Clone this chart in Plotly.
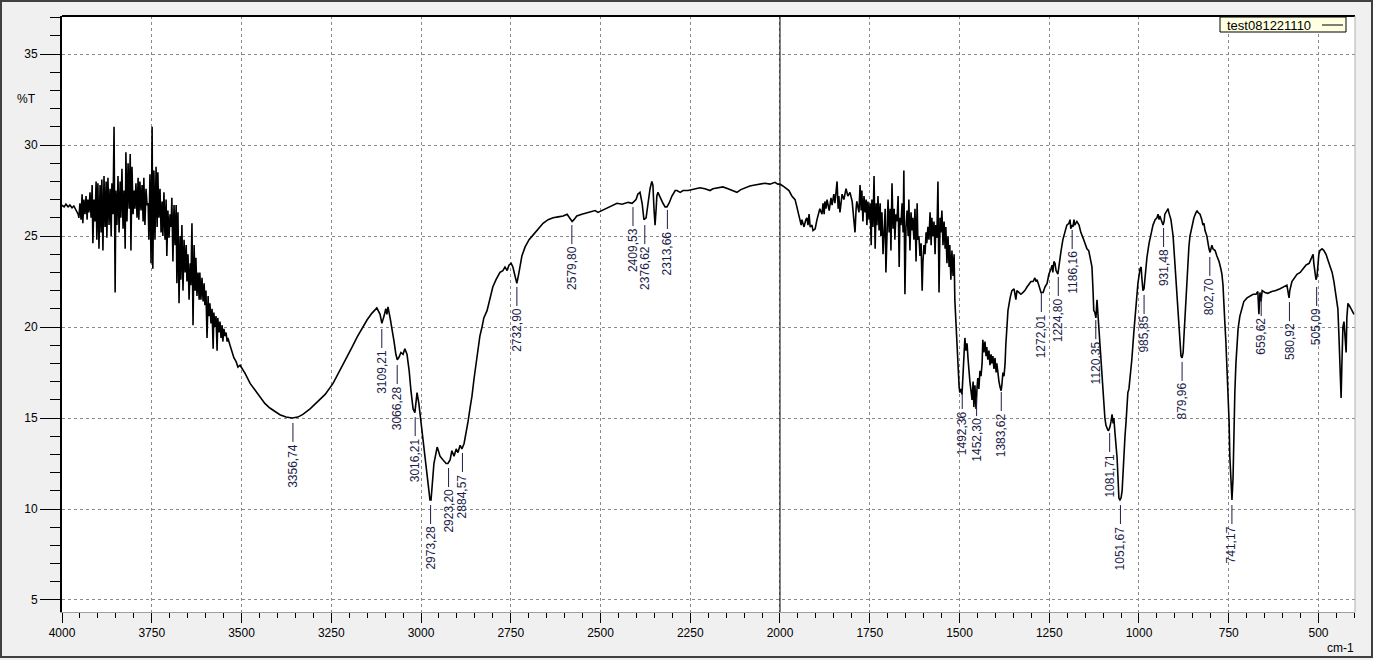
import plotly.graph_objects as go

# ---------------- data ----------------
wn_a = [4000,3994,3989,3983,3978,3972,3967,3961,3955,3953,
        3950,3947,3944,3942,3939,3936,3933,3930,3928,3925,
        3922,3919,3916,3914,3911,3908,3905,3903,3900,3897,
        3894,3891,3889,3886,3883,3880,3877,3875,3872,3869,
        3866,3863,3861,3858,3855,3852,3850,3847,3844,3841,
        3838,3836,3833,3830,3827,3824,3822,3819,3816,3813,
        3810,3808,3805,3802,3799,3797,3794,3791,3788,3786,
        3783,3780,3777,3774,3772,3769,3766,3763,3760,3758,
        3755,3752,3749,3747,3744,3741,3738,3735,3733,3730,
        3727,3724,3721,3719,3716,3713,3710,3708,3705,3702,
        3699,3696,3694,3691,3688,3685,3682,3680,3677,3674,
        3671,3669,3666,3663,3660,3657,3654,3652,3649,3646,
        3643,3641,3638,3635,3632,3629,3627,3624,3621,3618,
        3616,3613,3610,3607,3604,3602,3599,3596,3593,3591,
        3588,3585,3582,3579,3577,3574,3571,3568,3566,3563,
        3560,3557,3554,3552,3549,3546,3543,3540,3538,3532,
        3526,3521,3515,3510,3504]
t_a = [26.7,26.6,26.75,26.6,26.7,26.55,26.65,26.4,26.2,26.0,
       26.8,25.9,27.3,25.7,27.0,26.2,27.2,25.9,27.0,26.3,
       27.4,26.0,27.8,24.6,27.0,25.8,28.0,24.8,27.9,24.3,
       27.8,25.2,28.1,24.2,28.3,25.5,28.0,24.9,28.2,25.6,
       27.6,25.0,27.9,26.2,31.0,21.9,27.5,25.6,28.3,25.2,
       28.0,26.0,28.7,25.4,27.5,24.3,29.6,25.8,29.0,26.5,
       29.5,24.2,28.8,26.2,27.5,26.5,27.9,26.0,28.2,25.9,
       28.0,26.4,27.8,25.8,28.2,25.6,27.6,26.7,26.8,24.8,
       28.4,23.5,31.0,23.2,28.6,24.8,28.8,25.5,28.5,26.0,
       27.6,25.2,26.9,25.0,27.4,24.8,27.0,23.9,26.4,24.9,
       26.2,25.5,27.1,23.6,26.7,24.5,26.7,22.4,26.3,21.3,
       25.0,22.6,25.6,22.0,24.8,23.0,24.5,22.5,24.0,21.5,
       23.5,22.3,25.7,20.1,24.5,22.0,23.8,21.7,23.0,21.5,
       23.0,21.5,22.7,21.4,22.4,21.2,22.0,19.4,21.7,20.6,
       21.3,20.2,21.0,18.8,20.8,20.0,20.6,18.7,20.5,19.7,
       20.3,19.4,20.1,19.2,19.9,19.5,19.7,19.2,19.4,19.0,
       18.6,18.3,18.1,17.8,17.9]

wn_b = [3490,3476,3462,3448,3435,3421,3407,3393,3376,3359,
        3343,3329,3309,3290,3267,3245,3226,3206,3192,3178,
        3164,3150,3137,3123,3114,3109,3103,3098,3095,3092,
        3086,3081,3075,3070,3066,3061,3056,3050,3045,3039,
        3033,3028,3022,3017,3011,3006,3000,2994,2989,2983,
        2978,2975,2972,2969,2964,2958,2955,2953,2947,2939,
        2930,2925,2919,2914,2908,2902,2897,2891,2886,2880,
        2875,2869,2863,2858,2852,2847,2841,2836,2830,2825,
        2816,2808,2800,2791,2780,2772,2766,2760,2755,2749,
        2744,2738,2733,2727,2719,2710,2699,2688,2674,2660,
        2646,2632,2618,2604,2593,2585,2579,2574,2566,2552,
        2529,2515,2507,2487,2468,2454,2440,2423,2412,2401,
        2396,2390,2384,2379,2373,2368,2362,2357,2354,2351,
        2348,2345,2343,2340,2334,2326,2320,2315,2309,2301,
        2292,2287,2278,2270,2256,2245,2231,2223,2209,2195,
        2187,2173,2159,2145,2131,2120,2109,2098,2084,2070,
        2056,2042,2028,2014,2006,2000]
t_b = [17.45,16.9,16.5,16.1,15.8,15.55,15.35,15.18,15.05,15.0,
       15.05,15.2,15.5,15.85,16.3,16.9,17.6,18.3,18.9,19.45,
       19.95,20.4,20.75,21.05,20.7,20.2,20.6,21.0,20.7,21.1,
       20.5,20.0,19.2,18.5,18.2,18.35,18.6,18.5,18.8,18.5,
       17.6,16.5,15.5,15.3,16.4,15.8,14.8,14.0,13.0,12.0,
       11.0,10.5,10.5,11.2,12.5,13.1,13.4,13.3,12.9,12.7,
       12.5,12.5,12.7,13.2,12.9,13.3,13.1,13.5,13.3,13.6,
       14.1,14.8,15.6,16.2,17.2,18.0,18.9,19.5,20.0,20.5,
       20.9,21.6,22.2,22.6,23.0,23.1,23.3,23.1,23.4,23.5,
       23.3,22.8,22.4,23.0,23.9,24.4,24.8,25.05,25.4,25.7,
       25.9,26.0,26.05,26.1,26.2,26.0,25.8,25.9,26.1,26.2,
       26.3,26.4,26.3,26.5,26.7,26.8,26.75,26.85,26.8,27.0,
       27.3,27.4,26.8,25.9,26.0,26.8,27.6,28.0,27.8,26.5,
       25.6,26.5,27.2,27.4,27.1,26.8,26.6,26.6,26.8,27.2,
       27.5,27.5,27.4,27.5,27.5,27.55,27.6,27.65,27.6,27.5,
       27.6,27.65,27.7,27.6,27.5,27.4,27.55,27.65,27.75,27.8,
       27.85,27.9,27.85,27.95,27.85,27.85]

wn_c = [1992,1983,1975,1967,1958,1953,1947,1944,1941,1939,
        1933,1928,1925,1922,1919,1916,1911,1908,1902,1897,
        1891,1889,1883,1880,1877,1875,1872,1869,1863,1858,
        1855,1850,1847,1841,1838,1836,1833,1827,1822,1816,
        1811,1805,1799,1794,1791,1788,1786,1780,1777,1774,
        1772,1769,1766,1763,1760,1758,1755,1752,1749,1746,
        1744,1741,1738,1735,1732,1730,1727,1724,1721,1719,
        1716,1713,1707,1705,1702,1699,1696,1693,1691,1688,
        1685,1682,1680,1677,1674,1671,1668,1666,1663,1660,
        1657,1655,1652,1649,1646,1643,1641,1638,1635,1632,
        1630,1627,1624,1621,1618,1616,1613,1610,1607,1604,
        1602,1599,1596,1593,1591,1588,1585,1582,1579,1577,
        1574,1571,1568,1566,1563,1560,1557,1554,1552,1549,
        1546,1543,1540,1538,1535,1532,1529,1527,1524,1521,
        1518,1515,1513,1510,1507,1504,1501,1499,1496,1493,
        1490]
t_c = [27.75,27.6,27.5,27.2,27.0,26.6,26.1,25.8,25.6,25.9,
       25.5,25.9,26.0,25.6,26.2,25.5,25.6,25.3,25.4,25.9,
       26.3,26.5,26.2,26.8,26.2,26.9,26.5,27.0,26.4,27.1,
       26.7,27.3,26.8,28.0,26.5,27.2,26.3,27.3,27.0,27.6,
       27.2,27.4,26.9,26.0,25.2,26.5,26.9,26.3,27.8,26.4,
       27.5,25.8,27.2,26.3,27.0,25.6,26.9,25.9,26.8,24.5,
       27.0,25.5,28.3,24.3,26.8,25.6,27.2,25.3,26.8,25.0,
       26.3,24.0,26.5,23.0,25.5,27.0,25.2,26.5,24.2,27.9,
       25.4,26.5,24.8,26.2,25.8,27.2,23.3,26.0,25.6,26.8,
       25.2,28.6,21.8,25.5,26.4,25.0,27.0,24.2,26.3,25.3,
       26.0,24.8,26.5,23.6,26.8,24.8,25.0,23.9,24.6,22.0,
       23.5,24.5,24.0,25.2,24.6,25.5,24.8,26.3,24.5,26.0,
       25.0,25.8,24.0,25.6,24.9,28.0,21.9,26.0,25.2,26.4,
       24.5,25.8,24.3,25.5,23.5,25.0,23.3,24.5,22.6,24.2,
       22.8,24.0,21.5,20.2,19.0,17.5,16.7,16.4,16.6,16.3,
       17.5]

wn_d = [1487,1485,1482,1479,1476,1474,1471,1468,1465,1462,
        1460,1457,1454,1451,1449,1446,1443,1440,1437,1435,
        1432,1429,1426,1424,1421,1418,1415,1412,1410,1407,
        1404,1401,1398,1396,1393,1390,1387,1384,1382,1379,
        1376,1373,1371,1368,1365,1359,1354,1348,1346,1343,
        1340,1334,1329,1323,1318,1312,1306,1301,1295,1290,
        1287,1284,1279,1273,1267,1262,1256,1251,1245,1242,
        1240,1237,1234,1231,1226,1223,1217,1212,1206,1201,
        1195,1192,1190,1187,1184,1181,1179,1173,1167,1162,
        1156,1151,1145,1140,1137,1134,1131,1128,1126,1123,
        1120,1117,1114,1112,1109,1106,1103,1100,1098,1095,
        1092,1089,1086,1084,1081,1078,1075,1072,1070,1067,
        1064,1061,1058,1056,1053,1050,1047,1045,1042,1039,
        1036,1034,1031,1028,1025,1020,1014,1008,1003,997,
        994,992,989,986,983,978,972,966,961,955,
        950,947,944,942,936,933,930,928,922,919,
        917,911,905,900,897,894,891,889,886,883,
        880,877,875,872,869,866,864,861,858,852,
        847,841,838,836,830,825,822,819,816,811,
        808,805,802,799,797,794,788,783,777,772,
        769,766,763,761,758,755,752,749,747,744,
        741,738,736,733,730,727,724,719,713,708,
        699,691,682,674,669,666,663,660,657,649,
        641,630,619,607,596,588,582,580,574,568,
        560,551,543,535,526,521,515,513,510,507,
        504,501,499,496,490,485,479,474,468,462,
        457,451,446,443,440,437,435,432,429,426,
        423,421,418,412,407,401]
t_d = [18.8,19.4,18.7,19.1,18.2,17.6,17.0,16.5,16.0,17.0,
       15.6,16.8,15.5,16.7,17.2,16.6,17.6,17.3,18.0,19.3,
       18.6,19.2,18.4,18.9,18.2,18.7,17.9,18.5,18.0,18.4,
       17.7,18.3,17.5,18.0,17.4,17.0,16.7,16.5,16.8,17.5,
       17.3,18.0,19.0,20.0,20.9,21.6,22.0,22.1,21.8,21.5,
       22.0,21.9,21.8,21.9,22.0,22.2,22.4,22.5,22.5,22.7,
       22.5,22.6,22.3,21.9,21.9,22.2,22.4,22.9,23.2,23.4,
       23.0,23.6,23.5,23.1,22.9,23.4,24.2,24.8,25.3,25.6,
       25.7,25.9,25.4,25.6,25.5,25.9,25.6,25.8,25.6,25.2,
       24.9,24.6,24.3,24.2,23.9,23.8,23.3,22.0,20.9,20.8,
       20.5,21.5,20.6,19.8,19.1,18.2,17.3,16.4,15.6,15.0,
       14.6,14.4,14.3,14.35,14.5,14.8,15.2,14.7,15.0,14.2,
       13.5,12.8,11.5,10.6,10.5,10.6,11.0,12.0,13.0,14.0,
       14.8,15.7,16.4,16.6,17.1,18.2,19.8,21.3,22.4,23.2,
       23.3,22.7,22.0,22.1,22.8,23.8,24.6,25.2,25.6,25.9,
       26.0,26.2,25.9,26.1,25.7,25.6,25.8,26.2,26.4,26.5,
       26.3,25.9,25.0,23.5,22.4,21.6,20.9,19.9,18.9,18.4,
       18.3,18.6,19.4,20.5,21.7,22.7,23.6,24.4,25.0,25.6,
       26.0,26.3,26.4,26.3,26.2,25.9,25.6,25.7,25.3,25.0,
       24.6,24.3,24.1,24.3,24.5,24.3,24.2,23.9,23.6,23.2,
       22.9,22.3,21.4,20.3,19.2,18.0,16.5,14.8,12.9,11.2,
       10.5,11.7,14.0,16.4,18.0,19.2,19.9,20.6,21.1,21.4,
       21.6,21.7,21.8,21.8,21.95,20.7,21.9,21.4,22.0,21.9,
       21.85,21.95,22.0,22.1,22.2,22.3,21.6,22.0,22.5,22.7,
       22.9,23.0,23.2,23.4,23.5,23.7,24.0,23.5,22.9,22.6,
       22.8,23.8,24.0,24.2,24.3,24.2,24.0,23.7,23.3,23.0,
       22.5,21.8,21.0,19.5,17.5,16.1,17.8,20.0,20.3,19.0,
       18.6,20.5,21.3,21.1,20.9,20.7]

# peak table: wavenumber and the %T where its marker line starts
peak_wn = [3356.74, 3109.21, 3066.28, 3016.21, 2973.28, 2923.20, 2884.57,
           2732.90, 2579.80, 2409.53, 2376.62, 2313.66, 1492.36, 1452.30,
           1383.62, 1272.01, 1224.80, 1186.16, 1120.35, 1081.71, 1051.67,
           985.85, 931.48, 879.96, 802.70, 741.17, 659.62, 580.92, 505.09]
peak_t = [14.73, 19.89, 17.91, 15.05, 10.22, 12.25, 13.08,
          22.20, 25.60, 26.59, 25.60, 26.43, 16.54, 16.15,
          16.43, 21.87, 22.75, 25.33, 20.38, 14.18, 10.22,
          21.76, 25.44, 18.08, 23.85, 10.22, 21.65, 21.37, 22.20]

x_ticks = [4000, 3750, 3500, 3250, 3000, 2750, 2500, 2250, 2000, 1750, 1500, 1250, 1000, 750, 500]
y_ticks = [5, 10, 15, 20, 25, 30, 35]
series_name = "test081221110"

for a, b in [(wn_a, t_a), (wn_b, t_b), (wn_c, t_c), (wn_d, t_d)]:
    assert len(a) == len(b), (len(a), len(b))

wavenumber = wn_a + wn_b + wn_c + wn_d
transmittance = t_a + t_b + t_c + t_d

# ---------------- figure ----------------
FONT = "Liberation Sans, Arial, sans-serif"
W, H = 1373, 660
ML, MR, MT, MB = 62, 18, 16, 48
PW, PH = W - ML - MR, H - MT - MB

def px_x(px):
    return (px - ML) / PW

def px_y(py):
    return (H - MB - py) / PH

fig = go.Figure()
fig.add_trace(go.Scatter(x=wavenumber, y=transmittance, mode="lines",
                         line=dict(color="black", width=1.6),
                         name=series_name, showlegend=False,
                         hoverinfo="x+y"))

label_color = "#1c1c48"
for w, ty in zip(peak_wn, peak_t):
    fig.add_shape(type="line", xref="x", yref="y", x0=w, x1=w,
                  ysizemode="pixel", yanchor=ty, y0=0, y1=-19,
                  line=dict(color=label_color, width=1))
    fig.add_annotation(x=w, y=ty, xref="x", yref="y",
                       text=f"{w:.2f}".replace(".", ","),
                       textangle=-90, showarrow=False,
                       xanchor="center", yanchor="top", yshift=-19,
                       font=dict(family=FONT, size=12, color=label_color))

# cursor line at 2000
fig.add_shape(type="line", xref="x", yref="paper", x0=2000, x1=2000, y0=0, y1=1,
              line=dict(color="black", width=1))
# top and right frame of the plot area
fig.add_shape(type="line", xref="paper", yref="paper", x0=0, x1=1, y0=1, y1=1,
              line=dict(color="black", width=2))
fig.add_shape(type="line", xref="paper", yref="paper", x0=1, x1=1, y0=0, y1=1,
              line=dict(color="#b0b0b0", width=1))
# outer window frame
fig.add_shape(type="rect", xref="paper", yref="paper",
              x0=px_x(1), x1=px_x(W - 1), y0=px_y(H - 3), y1=px_y(1),
              line=dict(color="#404040", width=2), layer="above")

# legend box
fig.add_shape(type="rect", xref="paper", yref="paper",
              x0=px_x(1220), x1=px_x(1346), y0=px_y(32), y1=px_y(17),
              fillcolor="#ffffe1", line=dict(color="black", width=1))
fig.add_shape(type="line", xref="paper", yref="paper",
              x0=px_x(1322), x1=px_x(1343), y0=px_y(25), y1=px_y(25),
              line=dict(color="black", width=1))
fig.add_annotation(x=px_x(1225), y=px_y(25), xref="paper", yref="paper",
                   text=series_name, showarrow=False, xanchor="left", yanchor="middle",
                   font=dict(family=FONT, size=13, color="black"))

# axis titles
fig.add_annotation(x=px_x(26), y=px_y(99), xref="paper", yref="paper", text="%T",
                   showarrow=False, xanchor="center", yanchor="middle",
                   font=dict(family=FONT, size=12, color="black"))
fig.add_annotation(x=px_x(1340), y=px_y(648), xref="paper", yref="paper", text="cm-1",
                   showarrow=False, xanchor="center", yanchor="middle",
                   font=dict(family=FONT, size=12, color="black"))

grid = dict(showgrid=True, gridcolor="#8a8a8a", gridwidth=1, griddash="3px,3px", zeroline=False)
fig.update_layout(
    width=W, height=H,
    margin=dict(l=ML, r=MR, t=MT, b=MB, pad=0),
    paper_bgcolor="#f0f0f0", plot_bgcolor="white",
    showlegend=False,
    font=dict(family=FONT, size=12, color="black"),
    xaxis=dict(range=[4000, 398.3], autorange=False,
               tickmode="array", tickvals=x_ticks, ticktext=[str(v) for v in x_ticks],
               ticks="outside", ticklen=10, tickwidth=1, tickcolor="black",
               showline=True, linecolor="#a0a0a0", linewidth=1,
               tickfont=dict(family=FONT, size=12, color="black"),
               minor=dict(tickmode="array", tickvals=list(range(400, 4001, 50)),
                          ticks="outside", ticklen=5, tickwidth=1, tickcolor="black",
                          showgrid=False),
               **grid),
    yaxis=dict(range=[4.34, 37.09], autorange=False,
               tickmode="array", tickvals=y_ticks, ticktext=[str(v) for v in y_ticks],
               ticks="outside", ticklen=20, tickwidth=1, tickcolor="black",
               showline=True, linecolor="black", linewidth=2,
               tickfont=dict(family=FONT, size=12, color="black"),
               minor=dict(tickmode="array", tickvals=list(range(5, 38)),
                          ticks="outside", ticklen=10, tickwidth=1, tickcolor="black",
                          showgrid=False),
               **grid),
)

fig.write_html("out.html",
               config={"displayModeBar": False},
               post_script="document.body.style.margin='0';"
                           "document.body.style.padding='0';"
                           "document.body.style.overflow='hidden';"
                           "document.body.style.background='#f0f0f0';")
